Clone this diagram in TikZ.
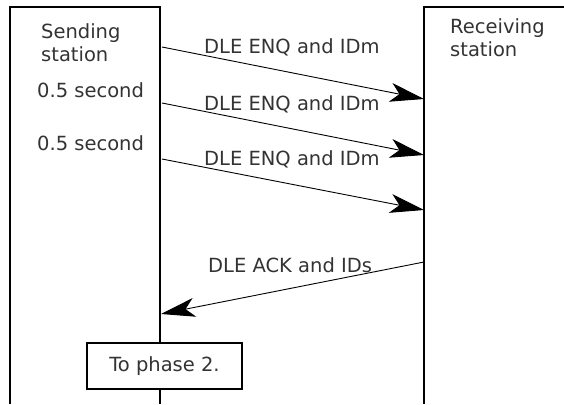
\documentclass[tikz,border=0pt]{standalone}
\usepackage{fontspec}
\setmainfont{DejaVu Sans}
\usetikzlibrary{arrows.meta, positioning}
\definecolor{txtgray}{HTML}{333333}

\begin{document}
\begin{tikzpicture}[
    x=1pt, y=-1pt,
    lbl/.style={inner sep=0pt, text=txtgray, font=\fontsize{19.5}{23}\selectfont, align=left},
    frame/.style={line width=1.2pt},
    msg/.style={line width=0.9pt, -{Stealth[length=34pt, width=19pt, inset=9pt]}},
    phase/.style={draw, line width=1.2pt, fill=white, minimum width=155pt, minimum height=46pt, inner sep=0pt, text=txtgray, font=\fontsize{19.5}{23}\selectfont},
]
\useasboundingbox (0,0) rectangle (564,404);

% Stations
\draw[frame] (10,404) |- (160,7) -- (160,404);
\draw[frame] (424,404) |- (564,7);
\node[lbl, anchor=north west] (send) at (41,23) {Sending\\station};
\node[lbl, anchor=north west] (recv) at (450,18) {Receiving\\station};

% Points on the lifelines
\coordinate (s1) at (162,47);
\coordinate (s2) at (162,103);
\coordinate (s3) at (162,159);
\coordinate (s4) at (161,314);
\coordinate (r1) at (424,99);
\coordinate (r2) at (424,155);
\coordinate (r3) at (424,210);
\coordinate (r4) at (424,262);

% Retries
\node[lbl, anchor=base west] (wait1) at (37,97) {0.5 second};
\node[lbl, anchor=base west] (wait2) at (37,150) {0.5 second};

% Messages
\draw[msg] (s1) -- (r1);
\draw[msg] (s2) -- (r2);
\draw[msg] (s3) -- (r3);
\draw[msg] (r4) -- (s4);
\node[lbl, anchor=base west] (enq1) at (204,53) {DLE ENQ and IDm};
\node[lbl, anchor=base west] (enq2) at (204,110) {DLE ENQ and IDm};
\node[lbl, anchor=base west] (enq3) at (204,165) {DLE ENQ and IDm};
\node[lbl, anchor=base west] (ack) at (208,272) {DLE ACK and IDs};

\node[phase] (next) at (164.5,366) {To phase 2.};

\end{tikzpicture}
\end{document}
